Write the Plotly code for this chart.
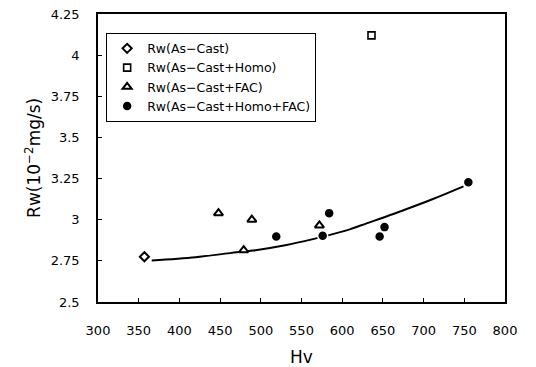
import plotly.graph_objects as go

# Data
ascast_x = [357]
ascast_y = [2.775]

homo_x = [636]
homo_y = [4.12]

fac_x = [448, 479, 489, 572]
fac_y = [3.04, 2.815, 3.0, 2.965]

homofac_x = [519, 576, 584, 646, 652, 755]
homofac_y = [2.898, 2.902, 3.04, 2.898, 2.955, 3.228]

fit_x = [366, 420, 462, 491, 530, 564, 585, 610, 630, 650, 671, 710, 749]
fit_y = [2.752, 2.772, 2.797, 2.813, 2.845, 2.882, 2.908, 2.943, 2.978, 3.012, 3.05, 3.123, 3.203]

x_ticks = [300, 350, 400, 450, 500, 550, 600, 650, 700, 750, 800]
y_ticks = [2.5, 2.75, 3.0, 3.25, 3.5, 3.75, 4.0, 4.25]
y_ticktext = ["2.5", "2.75", "3", "3.25", "3.5", "3.75", "4", "4.25"]

names = ["Rw(As−Cast)", "Rw(As−Cast+Homo)", "Rw(As−Cast+FAC)", "Rw(As−Cast+Homo+FAC)"]
x_title = "Hv"
y_title = "Rw(10<sup>−2</sup>mg/s)"

FONT = "DejaVu Sans"

fig = go.Figure()
fig.add_trace(go.Scatter(x=fit_x, y=fit_y, mode="lines", line=dict(color="black", width=2, shape="spline"),
                         showlegend=False, hoverinfo="skip"))
fig.add_trace(go.Scatter(x=ascast_x, y=ascast_y, mode="markers", name=names[0],
                         marker=dict(symbol="diamond", size=7, color="white", line=dict(color="black", width=2))))
fig.add_trace(go.Scatter(x=homo_x, y=homo_y, mode="markers", name=names[1],
                         marker=dict(symbol="square", size=7, color="white", line=dict(color="black", width=1.6))))
fig.add_trace(go.Scatter(x=fac_x, y=fac_y, mode="markers", name=names[2],
                         marker=dict(symbol="triangle-up", size=8, color="white", line=dict(color="black", width=2))))
fig.add_trace(go.Scatter(x=homofac_x, y=homofac_y, mode="markers", name=names[3],
                         marker=dict(symbol="circle", size=10, color="black", line=dict(color="white", width=1.5))))

fig.update_layout(
    width=536, height=367,
    margin=dict(l=98, r=31, t=14, b=65),
    paper_bgcolor="white", plot_bgcolor="white",
    font=dict(family=FONT, size=13, color="black"),
    legend=dict(x=0.02, y=0.935, xanchor="left", yanchor="top",
                bgcolor="white", bordercolor="black", borderwidth=1,
                font=dict(family=FONT, size=12.5, color="black"),
                itemwidth=30, tracegroupgap=0),
    showlegend=True,
    annotations=[dict(text=y_title, xref="paper", yref="paper", x=-0.16, y=0.5,
                      xanchor="center", yanchor="middle", textangle=-90, showarrow=False,
                      font=dict(family=FONT, size=17, color="black"))],
)
fig.update_xaxes(range=[300, 800], tickvals=x_ticks, ticks="inside", ticklen=4, tickwidth=1,
                 tickcolor="black", showline=True, linecolor="black", linewidth=1.5, mirror=True,
                 showgrid=False, zeroline=False, ticklabelstandoff=16, automargin=False,
                 tickfont=dict(family=FONT, size=13, color="black"),
                 title=dict(text=x_title, font=dict(family=FONT, size=17, color="black")))
fig.update_yaxes(range=[2.5, 4.25], tickvals=y_ticks, ticktext=y_ticktext, ticks="inside", ticklen=4,
                 tickwidth=1, tickcolor="black", showline=True, linecolor="black", linewidth=1.5, mirror=True,
                 showgrid=False, zeroline=False, ticklabelstandoff=14, automargin=False,
                 tickfont=dict(family=FONT, size=13, color="black"))

fig.write_html("out.html")
